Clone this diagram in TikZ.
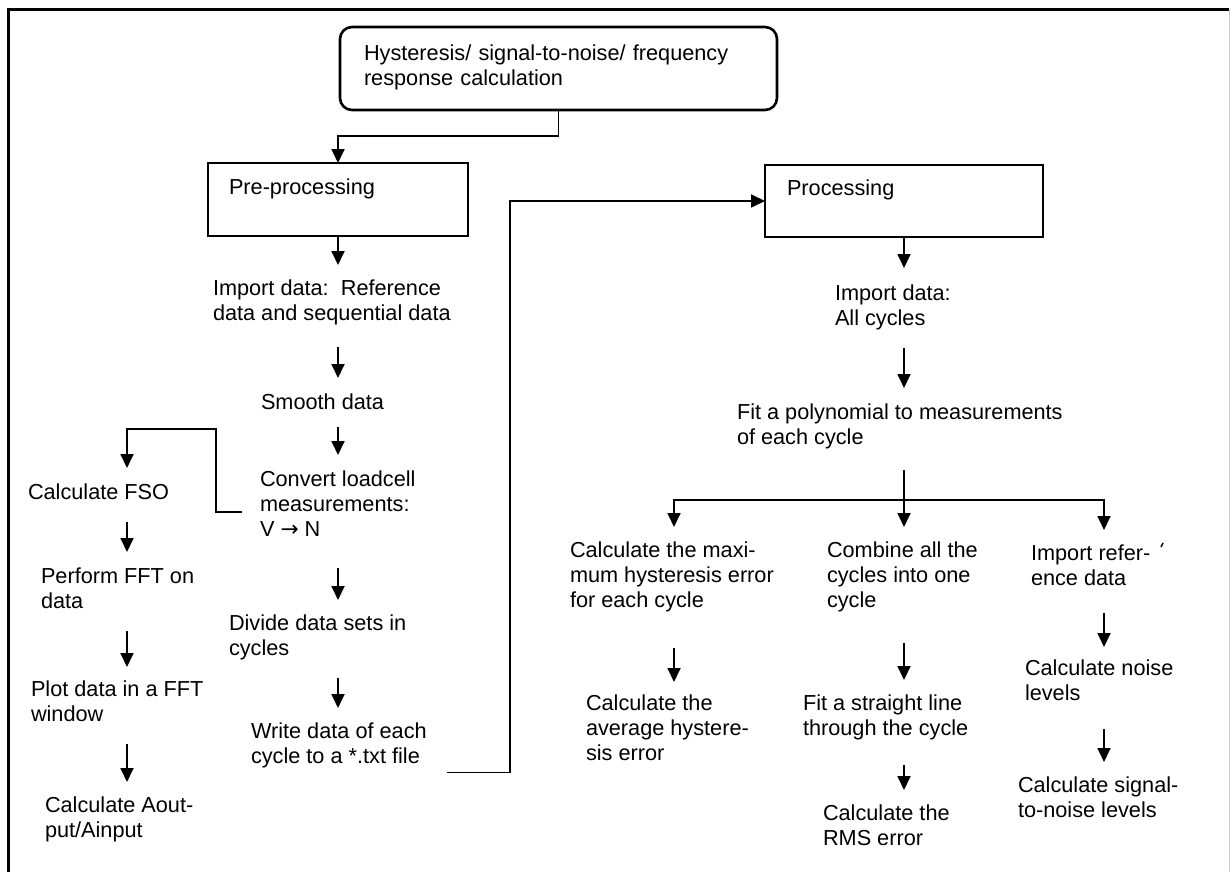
\documentclass[tikz,border=0pt]{standalone}
\usepackage{fontspec}
\setmainfont{Liberation Sans}
\newfontfamily\arrowfont{DejaVu Sans}
\usetikzlibrary{arrows.meta}
\newcommand{\diafont}{\fontsize{21.7pt}{25pt}\selectfont}
\begin{document}
\begin{tikzpicture}[x=1pt,y=-1pt,
  txt/.style={anchor=north west, inner sep=0pt, outer sep=0pt, align=left, font=\diafont},
  boxn/.style={draw, line width=2.6pt, anchor=north west, inner ysep=0pt, outer sep=0pt, align=left, font=\diafont},
  arr/.style={line width=1.8pt, -{Triangle[width=13pt,length=14pt]}},
  frame/.style={line width=3pt}]
\useasboundingbox (0,0) rectangle (1231,872);
\draw[frame] (8,872) -- (8,10) -- (1229,10);
\draw[black!20, line width=1pt] (1229,10) -- (1229,872);

% boxes
\node[boxn, rounded corners=12pt, minimum width=437pt, minimum height=83pt, inner xsep=24pt, text width=389pt] (top) at (340,27)
  {\strut Hysteresis/ signal-to-noise/ frequency\\response calculation\strut};
\node[boxn, minimum width=260pt, minimum height=73pt, inner xsep=21pt, text width=218pt] (pre) at (208,163)
  {\strut Pre-processing\\[-4pt]\strut};
\node[boxn, minimum width=278pt, minimum height=72pt, inner xsep=22pt, text width=234pt] (proc) at (765,165)
  {\strut Processing\\[-4pt]\strut};

% pre-processing column
\node[txt] (imp) at (213,278) {\strut Import data:\ \ Reference\\data and sequential data\strut};
\node[txt] (smooth) at (261,392) {\strut Smooth data\strut};
\node[txt] (conv) at (260,469) {\strut Convert loadcell\\measurements:\\V {\arrowfont →} N\strut};
\node[txt] (div) at (229,613) {\strut Divide data sets in\\cycles\strut};
\node[txt] (write) at (251,721) {\strut Write data of each\\cycle to a *.txt file\strut};

% FFT column
\node[txt] (fso) at (28,482) {\strut Calculate FSO\strut};
\node[txt] (fft) at (41,566) {\strut Perform FFT on\\data\strut};
\node[txt] (plot) at (31,679) {\strut Plot data in a FFT\\window\strut};
\node[txt] (aout) at (45,795) {\strut Calculate Aout-\\put/Ainput\strut};

% processing column
\node[txt] (impall) at (835,283) {\strut Import data:\\All cycles\strut};
\node[txt] (poly) at (737,402) {\strut Fit a polynomial to measurements\\of each cycle\strut};
\node[txt] (maxh) at (570,540) {\strut Calculate the maxi-\\mum hysteresis error\\for each cycle\strut};
\node[txt] (avgh) at (586,693) {\strut Calculate the\\average hystere-\\sis error\strut};
\node[txt] (comb) at (827,540) {\strut Combine all the\\cycles into one\\cycle\strut};
\node[txt] (fitl) at (803,693) {\strut Fit a straight line\\through the cycle\strut};
\node[txt] (rms) at (823,803) {\strut Calculate the\\RMS error\strut};
\node[txt] (impref) at (1031,543) {\strut Import refer-\\ence data\strut};
\node[txt] (noise) at (1025,658) {\strut Calculate noise\\levels\strut};
\node[txt] (sn) at (1018,775) {\strut Calculate signal-\\to-noise levels\strut};

% column guides
\coordinate (cL) at (338,0);
\coordinate (cF) at (127,0);
\coordinate (cR) at (904,0);
\coordinate (c1) at (674,0);
\coordinate (c3) at (1104,0);
\coordinate (jx) at (510,0);
\coordinate (bus) at (904,500);
\coordinate (ws) at ([xshift=20pt,yshift=-1.5pt]write.south east);

% connectors
\draw[arr] (top.south) -- ++(0,26) -| (pre.north);
\draw[arr, shorten >=13pt] (pre.south) -- (imp.north -| pre.south);
\draw[arr, shorten <=19pt, shorten >=14pt] (imp.south -| cL) -- (smooth.north -| cL);
\draw[arr, shorten <=10pt, shorten >=14pt] (smooth.south -| cL) -- (conv.north -| cL);
\draw[arr, shorten <=24pt, shorten >=13pt] (conv.south -| cL) -- (div.north -| cL);
\draw[arr, shorten <=15pt, shorten >=13pt] (div.south -| cL) -- (write.north -| cL);
\draw[arr, shorten >=14pt] ([xshift=-18pt,yshift=-5.5pt]conv.west) -- ++(-26,0) -- ++(0,-83) -| (fso.north -| cF);
\draw[arr, shorten <=15pt, shorten >=14pt] (fso.south -| cF) -- (fft.north -| cF);
\draw[arr, shorten <=15pt, shorten >=12pt] (fft.south -| cF) -- (plot.north -| cF);
\draw[arr, shorten <=15pt, shorten >=13pt] (plot.south -| cF) -- (aout.north -| cF);
\draw[arr] (ws) -| (jx |- proc.west) -- (proc.west);
\draw[arr, shorten >=15pt] (proc.south) -- (impall.north -| proc.south);
\draw[arr, shorten <=15pt, shorten >=14pt] (impall.south -| cR) -- (poly.north -| cR);
\draw[arr, shorten <=18pt, shorten >=13pt] (poly.south -| cR) -- (comb.north -| cR);
\draw[arr, shorten >=13pt] (bus) -| (maxh.north -| c1);
\draw[arr, shorten >=13pt] (bus) -| (impref.north -| c3);
\draw[arr, shorten <=33pt, shorten >=11pt] (maxh.south -| c1) -- (avgh.north -| c1);
\draw[arr, shorten <=28pt, shorten >=13pt] (comb.south -| cR) -- (fitl.north -| cR);
\draw[arr, shorten <=22pt, shorten >=13pt] (fitl.south -| cR) -- (rms.north -| cR);
\draw[arr, shorten <=20pt, shorten >=11pt] (impref.south -| c3) -- (noise.north -| c3);
\draw[arr, shorten <=21pt, shorten >=13pt] (noise.south -| c3) -- (sn.north -| c3);

% stray mark
\draw[line width=1.4pt] (1161,547) -- (1163,543);
\end{tikzpicture}
\end{document}
